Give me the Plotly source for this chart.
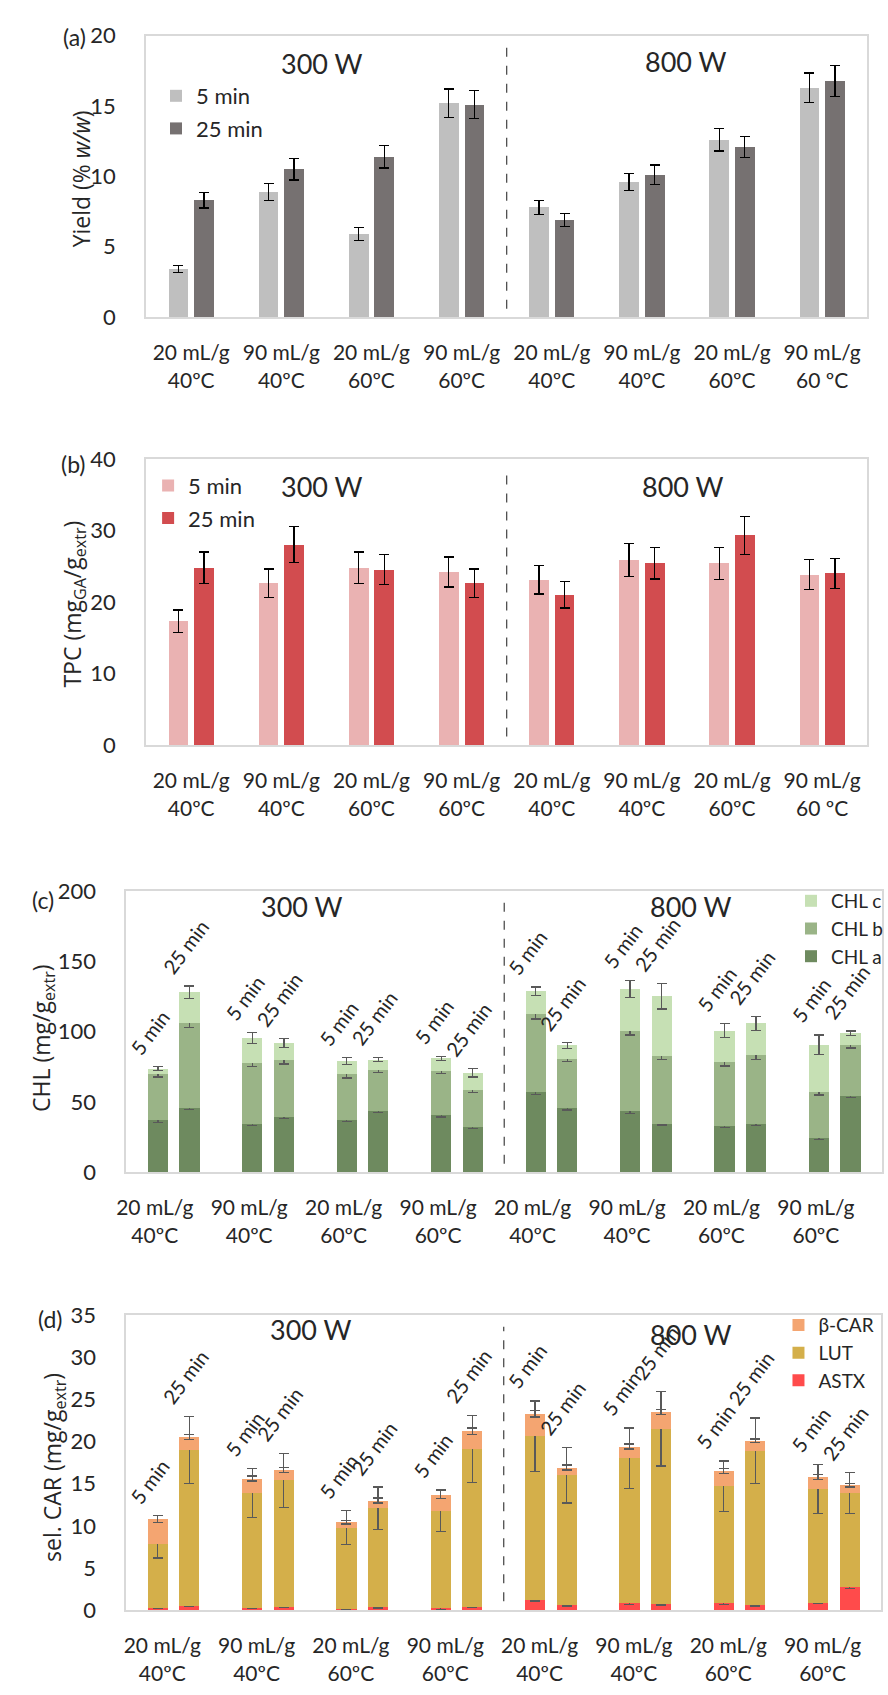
import numpy as np
import plotly.graph_objects as go

W, H = 888, 1695

# ---------------- data ----------------
labels_ab = ["20 mL/g<br>40ºC", "90 mL/g<br>40ºC", "20 mL/g<br>60ºC", "90 mL/g<br>60ºC",
             "20 mL/g<br>40ºC", "90 mL/g<br>40ºC", "20 mL/g<br>60ºC", "90 mL/g<br>60 ºC"]
labels_cd = ["20 mL/g<br>40ºC", "90 mL/g<br>40ºC", "20 mL/g<br>60ºC", "90 mL/g<br>60ºC",
             "20 mL/g<br>40ºC", "90 mL/g<br>40ºC", "20 mL/g<br>60ºC", "90 mL/g<br>60ºC"]
powers = ["300 W", "800 W"]
times = ["5 min", "25 min"]

# (a) extraction yield, % w/w
yield_5 = [3.4, 8.9, 5.9, 15.2, 7.8, 9.6, 12.6, 16.3]
yield_5_err = [0.25, 0.6, 0.45, 1.0, 0.5, 0.6, 0.8, 1.05]
yield_25 = [8.3, 10.5, 11.4, 15.1, 6.9, 10.1, 12.1, 16.8]
yield_25_err = [0.55, 0.75, 0.8, 1.0, 0.45, 0.7, 0.75, 1.1]

# (b) total phenolic content, mg GA / g extract
tpc_5 = [17.3, 22.6, 24.8, 24.2, 23.1, 25.9, 25.4, 23.8]
tpc_5_err = [1.6, 2.0, 2.2, 2.1, 2.0, 2.3, 2.25, 2.1]
tpc_25 = [24.8, 28.0, 24.5, 22.6, 21.0, 25.4, 29.3, 24.0]
tpc_25_err = [2.2, 2.5, 2.1, 2.0, 1.85, 2.2, 2.65, 2.1]

# (c) chlorophylls, mg / g extract (stacked a, b, c)
chl_a_5 = [36.9, 34.0, 36.9, 40.8, 56.8, 43.4, 33.0, 24.4]
chl_b_5 = [32.8, 43.9, 33.1, 31.2, 55.6, 57.1, 45.4, 32.4]
chl_c_5 = [4.0, 17.6, 8.9, 9.0, 16.2, 29.8, 22.3, 33.8]
chl_a_25 = [45.8, 39.0, 43.2, 31.9, 45.8, 34.5, 34.5, 54.5]
chl_b_25 = [60.1, 41.0, 29.6, 26.8, 35.0, 48.1, 48.8, 35.9]
chl_c_25 = [22.0, 11.8, 7.2, 12.0, 9.3, 42.4, 22.6, 8.4]
chl_a_5_err = [1.5, 1.0, 1.0, 1.5, 1.5, 1.5, 1.0, 1.0]
chl_a_25_err = [1.2, 1.0, 0.7, 1.0, 1.5, 1.0, 1.5, 1.5]
chl_b_5_err = [2.0, 3.0, 3.0, 2.0, 3.5, 3.0, 3.0, 2.0]
chl_b_25_err = [3.0, 3.0, 2.0, 2.0, 2.0, 2.5, 3.0, 2.0]
chl_c_5_err = [1.5, 4.0, 2.5, 1.5, 3.0, 6.0, 5.0, 7.0]
chl_c_25_err = [4.5, 3.0, 1.5, 3.0, 2.0, 9.0, 5.0, 1.5]

# (d) selected carotenoids, mg / g extract (stacked ASTX, LUT, beta-CAR)
astx_5 = [0.3, 0.3, 0.15, 0.2, 1.2, 0.8, 0.8, 0.85]
lut_5 = [7.6, 13.6, 9.65, 11.6, 19.4, 17.2, 13.9, 13.55]
bcar_5 = [2.9, 1.7, 0.6, 1.9, 2.7, 1.4, 1.8, 1.4]
astx_25 = [0.5, 0.4, 0.35, 0.4, 0.6, 0.7, 0.6, 2.8]
lut_25 = [18.5, 15.0, 11.75, 18.7, 15.4, 20.8, 18.3, 11.1]
bcar_25 = [1.5, 1.2, 0.9, 2.1, 0.9, 2.0, 1.2, 0.9]
astx_5_err = [0.1, 0.1, 0.05, 0.1, 0.1, 0.1, 0.1, 0.1]
astx_25_err = [0.1, 0.1, 0.1, 0.1, 0.1, 0.1, 0.1, 0.2]
lut_5_err = [1.7, 2.9, 2.0, 2.5, 4.2, 3.6, 3.0, 2.9]
lut_25_err = [4.0, 3.2, 2.5, 4.0, 3.3, 4.4, 3.9, 2.4]
bcar_5_err = [0.4, 0.3, 0.2, 0.5, 0.4, 0.3, 0.3, 0.3]
bcar_25_err = [0.3, 0.3, 0.3, 0.4, 0.3, 0.3, 0.2, 0.2]

# ---------------- layout helpers (pixel -> paper) ----------------
def px_x(x):
    return x / W


def px_y(y):
    return 1 - y / H


# plot frames in pixels: left, right, top, bottom, y max, y step
frames = [
    dict(x0=138, x1=869, y0=22, y1=308, ymax=20, dtick=5),
    dict(x0=138, x1=869, y0=452, y1=743, ymax=40, dtick=10),
    dict(x0=118, x1=884, y0=891, y1=1177, ymax=200, dtick=50),
    dict(x0=118, x1=883, y0=1322, y1=1622, ymax=35, dtick=5),
]

TXT = "#262626"
FONT = "Lato"
TFONT = "Open Sans"
idx = np.arange(8)

fig = go.Figure()


def bar(x, y, err, color, name, n, errcolor, legend, show, group, width, rank=1000):
    fig.add_trace(go.Bar(
        x=x, y=y, width=width, name=name, marker=dict(color=color, line=dict(width=0)),
        error_y=dict(type="data", array=err, color=errcolor, thickness=1.3, width=5),
        xaxis="x" if n == 1 else f"x{n}", yaxis="y" if n == 1 else f"y{n}",
        legend=legend, showlegend=show, legendgroup=group, legendrank=rank,
    ))


# (a) yield
off_ab, w_ab = 0.142, 0.218
bar(idx - off_ab, yield_5, yield_5_err, "#BFBFBF", times[0], 1, "#000000", "legend", True, "a5", w_ab)
bar(idx + off_ab, yield_25, yield_25_err, "#767171", times[1], 1, "#000000", "legend", True, "a25", w_ab)

# (b) TPC
bar(idx - off_ab, tpc_5, tpc_5_err, "#EAB2B2", times[0], 2, "#000000", "legend2", True, "b5", w_ab)
bar(idx + off_ab, tpc_25, tpc_25_err, "#D24C4F", times[1], 2, "#000000", "legend2", True, "b25", w_ab)

# (c) CHL stacked (bottom to top); legend lists the top segment first
off_cd, w_cd = 0.167, 0.215
ERR_CD = "#595959"
chl_series = [
    ("CHL a", "#6E8A5F", chl_a_5, chl_a_25, chl_a_5_err, chl_a_25_err),
    ("CHL b", "#9AB487", chl_b_5, chl_b_25, chl_b_5_err, chl_b_25_err),
    ("CHL c", "#C6E0B4", chl_c_5, chl_c_25, chl_c_5_err, chl_c_25_err),
]
for k, (name, col, v5, v25, e5, e25) in enumerate(chl_series):
    bar(idx - off_cd, v5, e5, col, name, 3, ERR_CD, "legend3", True, name, w_cd, rank=10 - k)
    bar(idx + off_cd, v25, e25, col, name, 3, ERR_CD, "legend3", False, name, w_cd, rank=10 - k)

# (d) carotenoids stacked
car_series = [
    ("ASTX", "#FF4B4B", astx_5, astx_25, astx_5_err, astx_25_err),
    ("LUT", "#D4AF4A", lut_5, lut_25, lut_5_err, lut_25_err),
    ("β-CAR", "#F4A571", bcar_5, bcar_25, bcar_5_err, bcar_25_err),
]
for k, (name, col, v5, v25, e5, e25) in enumerate(car_series):
    bar(idx - off_cd, v5, e5, col, name, 4, ERR_CD, "legend4", True, name, w_cd, rank=10 - k)
    bar(idx + off_cd, v25, e25, col, name, 4, ERR_CD, "legend4", False, name, w_cd, rank=10 - k)

annotations = []
shapes = []
label_shift = [0.0, 0.0, -0.2, -0.12]
labels = [labels_ab, labels_ab, labels_cd, labels_cd]
layout_axes = {}
for n, fr in enumerate(frames, start=1):
    xs = "" if n == 1 else str(n)
    layout_axes[f"xaxis{xs}"] = dict(
        domain=[px_x(fr["x0"]), px_x(fr["x1"])], anchor=f"y{xs}",
        range=[-0.5, 7.5], tickvals=idx + label_shift[n - 1], ticktext=labels[n - 1],
        showline=True, mirror=True, linecolor="#D9D9D9", linewidth=2,
        showgrid=False, zeroline=False, ticks="", ticklabelstandoff=16,
        tickfont=dict(family=FONT, size=21, color=TXT), fixedrange=True,
    )
    layout_axes[f"yaxis{xs}"] = dict(
        domain=[px_y(fr["y1"]), px_y(fr["y0"])], anchor=f"x{xs}",
        range=[0, fr["ymax"]], dtick=fr["dtick"], tick0=0,
        showline=True, mirror=True, linecolor="#D9D9D9", linewidth=2,
        showgrid=False, zeroline=False, ticks="", ticklabelstandoff=24,
        tickfont=dict(family=FONT, size=22, color=TXT), fixedrange=True,
    )
    # divider between the two power levels
    shapes.append(dict(type="line", xref=f"x{xs}", yref=f"y{xs} domain", x0=3.5, x1=3.5,
                       y0=0.03, y1=0.96, line=dict(color="#404040", width=1.2, dash="dash")))


def paper_text(txt, x, y, size, family=FONT, angle=0):
    annotations.append(dict(text=txt, x=px_x(x), y=px_y(y), xref="paper", yref="paper",
                            xanchor="center", yanchor="middle", showarrow=False,
                            textangle=angle, font=dict(family=family, size=size, color=TXT)))


# power level headers
power_pos = [((316, 50), (685, 48)), ((316, 480), (682, 480)),
             ((296, 907), (690, 907)), ((305, 1337), (690, 1342))]
for (p1, p2) in power_pos:
    for txt, (x, y) in zip(powers, (p1, p2)):
        paper_text(txt, x, y, 27)

# panel letters
for txt, (x, y) in zip(["(a)", "(b)", "(c)", "(d)"],
                       [(65, 23), (64, 457), (33, 900), (41, 1326)]):
    paper_text(txt, x, y, 23)

# y-axis titles
ytitles = ["Yield (% <i>w/w</i>)", "TPC (mg<sub>GA</sub>/g<sub>extr</sub>)",
           "CHL (mg/g<sub>extr</sub>)", "sel. CAR (mg/g<sub>extr</sub>)"]
for txt, (x, y) in zip(ytitles, [(72, 168), (64, 600), (33, 1041), (44, 1477)]):
    paper_text(txt, x, y, 23, family=TFONT, angle=-90)


# rotated time labels above stacked bars
def time_labels(n, segs5, segs25, errs5, errs25):
    xs = str(n)
    for tlabel, segs, errs, sign in ((times[0], segs5, errs5, -1), (times[1], segs25, errs25, 1)):
        tops = np.cumsum(np.array(segs), axis=0)
        hi = np.max(tops + np.array(errs), axis=0)
        for i in idx:
            annotations.append(dict(text=tlabel, x=i + sign * off_cd, y=hi[i],
                                    xref=f"x{xs}", yref=f"y{xs}", showarrow=False,
                                    xanchor="left", yanchor="bottom", textangle=-53,
                                    xshift=-35, yshift=5,
                                    font=dict(family=FONT, size=20, color=TXT)))


time_labels(3, [chl_a_5, chl_b_5, chl_c_5], [chl_a_25, chl_b_25, chl_c_25],
            [chl_a_5_err, chl_b_5_err, chl_c_5_err], [chl_a_25_err, chl_b_25_err, chl_c_25_err])
time_labels(4, [astx_5, lut_5, bcar_5], [astx_25, lut_25, bcar_25],
            [astx_5_err, lut_5_err, bcar_5_err], [astx_25_err, lut_25_err, bcar_25_err])

legend_common = dict(bgcolor="rgba(0,0,0,0)", borderwidth=0, xanchor="left", yanchor="top",
                     itemclick=False, itemdoubleclick=False, traceorder="grouped")
fig.update_layout(
    width=W, height=H, margin=dict(l=0, r=0, t=0, b=0),
    paper_bgcolor="white", plot_bgcolor="white",
    barmode="stack", showlegend=True,
    legend=dict(x=px_x(148), y=px_y(62), font=dict(family=FONT, size=22, color=TXT),
                tracegroupgap=1, **legend_common),
    legend2=dict(x=px_x(140), y=px_y(458), font=dict(family=FONT, size=22, color=TXT),
                 tracegroupgap=1, **legend_common),
    legend3=dict(x=px_x(792), y=px_y(882), font=dict(family=FONT, size=19, color=TXT),
                 tracegroupgap=0, **legend_common),
    legend4=dict(x=px_x(779), y=px_y(1313), font=dict(family=FONT, size=19, color=TXT),
                 tracegroupgap=0, **legend_common),
    annotations=annotations, shapes=shapes,
    **layout_axes,
)

fig.write_html("out.html")
